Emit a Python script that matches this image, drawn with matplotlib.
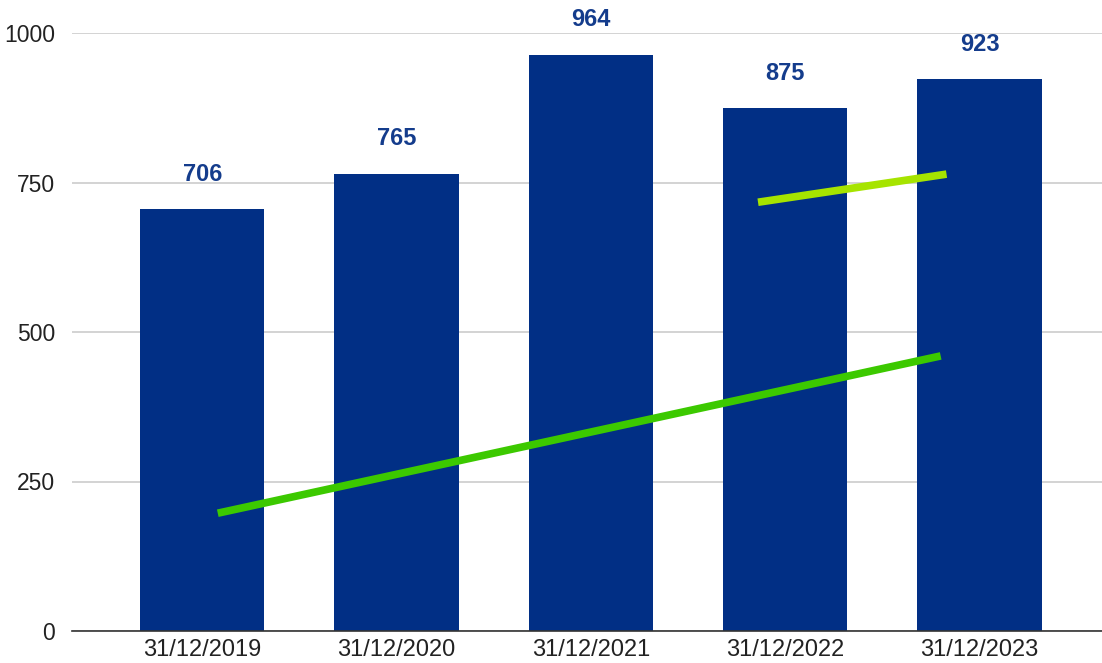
import numpy as np
import matplotlib.pyplot as plt

plt.rcParams['font.family'] = ['Liberation Sans', 'DejaVu Sans']

dates = ['31/12/2019', '31/12/2020', '31/12/2021', '31/12/2022', '31/12/2023']
values = [706, 765, 964, 875, 923]
yticks = [0, 250, 500, 750, 1000]

# hand-drawn trend strokes (x in category units, y in data units)
trend1_x = [0.08, 3.80]
trend1_y = [197, 460]
trend2_x = [2.86, 3.83]
trend2_y = [717, 764]

fig = plt.figure(figsize=(11.02, 6.63), dpi=100)
ax = fig.add_axes([72 / 1102, 32 / 663, 1030 / 1102, 598 / 663])

x = np.arange(len(dates))
ax.bar(x, values, width=0.64, color='#012f85', zorder=2)
for xi, v in zip(x, values):
    ax.text(xi, v + 58, str(v), ha='center', va='center', fontsize=17,
            fontweight='bold', color='#143c8c', clip_on=False, zorder=4)

ax.plot(trend1_x, trend1_y, color='#3cc900', lw=5.5, solid_capstyle='butt', zorder=3)
ax.plot(trend2_x, trend2_y, color='#a6e400', lw=5.5, solid_capstyle='butt', zorder=3)

ax.set_xlim(-0.67, 4.63)
ax.set_ylim(0, 1000)
ax.set_xticks(x)
ax.set_xticklabels(dates, fontsize=17, color='#222222')
ax.set_yticks(yticks)
ax.set_yticklabels([str(t) for t in yticks], fontsize=16.5, color='#222222')
ax.tick_params(length=0, pad=6)
ax.tick_params(axis='y', pad=12)
ax.grid(axis='y', color='#cccccc', lw=1.2, zorder=0)
for s in ['top', 'right', 'left']:
    ax.spines[s].set_visible(False)
ax.spines['bottom'].set_color('#333333')
ax.spines['bottom'].set_linewidth(1.2)
ax.spines['bottom'].set_zorder(3)

fig.savefig('out.png', dpi=100)
